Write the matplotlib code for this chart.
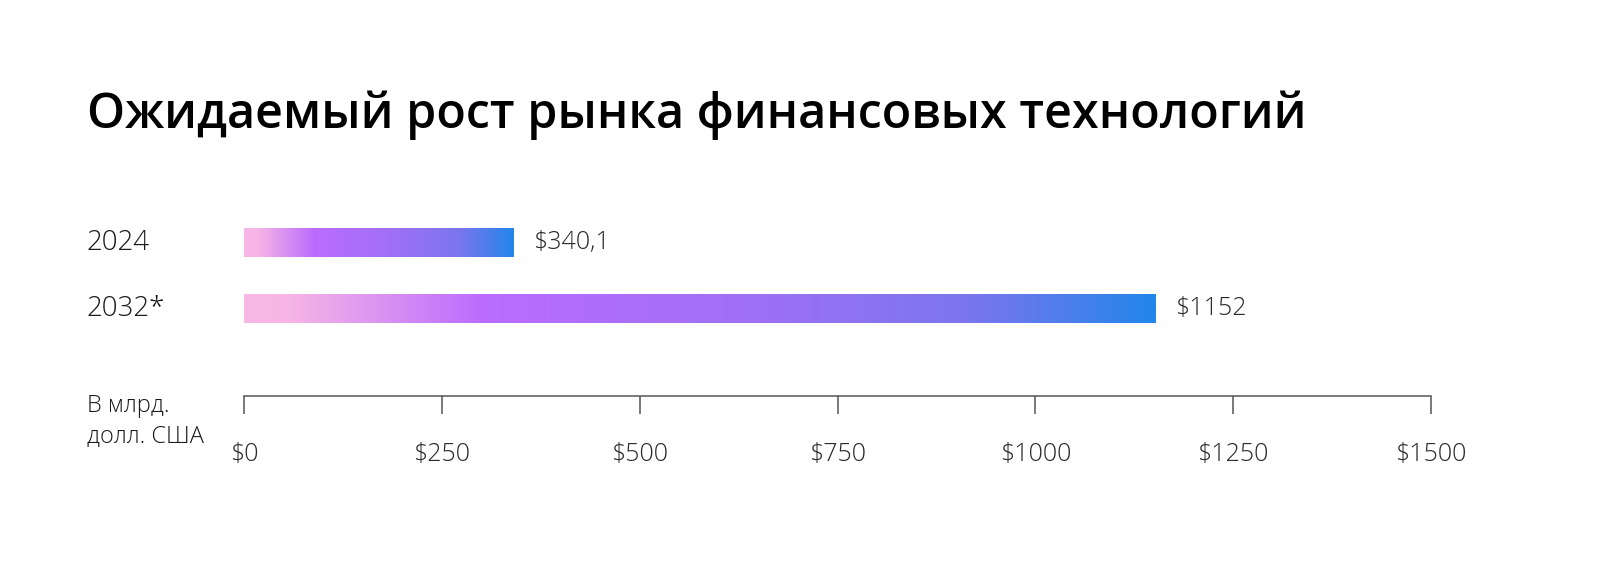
import numpy as np
import matplotlib
matplotlib.use("Agg")
import matplotlib.pyplot as plt
from matplotlib.colors import LinearSegmentedColormap

categories = ["2024", "2032*"]
values = [340.1, 1152]
value_labels = ["$340,1", "$1152"]
xticks = [0, 250, 500, 750, 1000, 1250, 1500]
xtick_labels = ["$0", "$250", "$500", "$750", "$1000", "$1250", "$1500"]
title = "Ожидаемый рост рынка финансовых технологий"
unit_label = "В млрд.\nдолл. США"

plt.rcParams['font.family'] = ['Open Sans', 'DejaVu Sans']

W, H = 1600, 564
fig = plt.figure(figsize=(W / 100, H / 100), dpi=100)
fig.patch.set_facecolor("white")

left, right = 244 / W, 1431 / W
top_px, bot_px = 210, 396
ax = fig.add_axes([left, 1 - bot_px / H, right - left, (bot_px - top_px) / H])

px_per_unit = 66.0
ylim_top = -(242.5 - top_px) / px_per_unit
ylim_bot = ylim_top + (bot_px - top_px) / px_per_unit
ax.set_xlim(0, 1500)
ax.set_ylim(ylim_bot, ylim_top)

cmap = LinearSegmentedColormap.from_list(
    "grad",
    [(0.0, "#f8b8e6"), (0.05, "#f6b5e6"), (0.26, "#bb6cff"),
     (0.55, "#a070f6"), (0.8, "#7a76ee"), (1.0, "#2286ea")])
grad = np.linspace(0, 1, 512).reshape(1, -1)

bar_h = 29 / px_per_unit
bars = ax.barh(range(len(categories)), values, height=bar_h, color="none", edgecolor="none")
for i, (b, v) in enumerate(zip(bars, values)):
    y0 = i - bar_h / 2
    im = ax.imshow(grad, cmap=cmap, aspect="auto",
                   extent=(0, v, y0 + bar_h, y0), zorder=2, interpolation="bilinear")
    im.set_clip_path(b)
    ax.text(v + 25, i, value_labels[i], va="center", ha="left",
            fontsize=18, color="#2a2a2a", fontweight="light")
ax.set_xlim(0, 1500)
ax.set_ylim(ylim_bot, ylim_top)

for s in ["top", "right", "left"]:
    ax.spines[s].set_visible(False)
ax.spines["bottom"].set_color("#555555")
ax.spines["bottom"].set_linewidth(1.1)
ax.set_yticks([])
ax.set_xticks(xticks)
ax.set_xticklabels(xtick_labels)
ax.tick_params(axis="x", direction="out", length=13, width=1.1, color="#555555",
               pad=20, labelsize=18, labelcolor="#2a2a2a")
for lbl in ax.get_xticklabels():
    lbl.set_fontweight("light")

for i, c in enumerate(categories):
    y_px = top_px + (i - ylim_top) * px_per_unit
    fig.text(87 / W, 1 - y_px / H, c, ha="left", va="center",
             fontsize=20, color="#1a1a1a", fontweight="light")

fig.text(87 / W, 1 - 421 / H, unit_label, ha="left", va="center",
         fontsize=17, color="#1a1a1a", linespacing=1.3, fontweight="light")

t = fig.text(87 / W, 1 - 115 / H, title, ha="left", va="center",
             fontsize=40, fontweight="semibold", color="#000000")
fig.canvas.draw()
bb = t.get_window_extent()
t.set_fontsize(40 * 1218 / bb.width)

fig.savefig("out.png", dpi=100, facecolor="white")
